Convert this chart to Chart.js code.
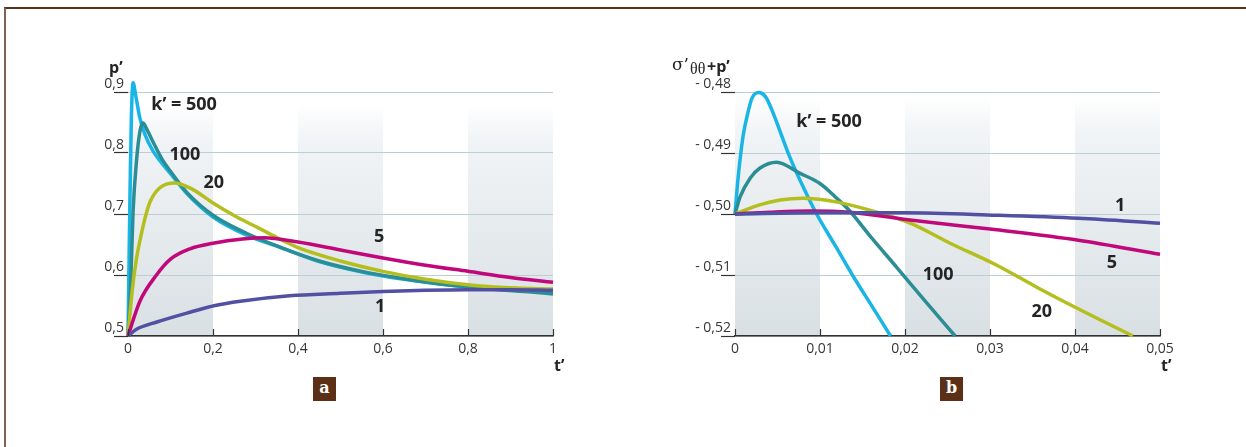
<!DOCTYPE html>
<html>
<head>
<meta charset="utf-8">
<script src="https://cdn.jsdelivr.net/npm/chart.js@4.4.1/dist/chart.umd.min.js"></script>
<style>
html, body { margin: 0; padding: 0; background: #fff; }
body { width: 1246px; height: 447px; position: relative; overflow: hidden; font-family: 'Open Sans', sans-serif; }
.cadre { position: absolute; left: 4px; top: 7px; width: 1300px; height: 500px; border-top: 2px solid #5b3218; border-left: 2px solid #7e6354; }
canvas { position: absolute; top: 0; }
#grafA { left: 0; }
#grafB { left: 623px; }
.tag { position: absolute; top: 377px; width: 23px; height: 24px; background: #5b3016; color: #fff;
       font: bold 16px 'DejaVu Serif', 'Liberation Serif', serif; text-align: center; line-height: 22px; }
</style>
</head>
<body>
<div class="cadre"></div>
<canvas id="grafA" width="623" height="447"></canvas>
<canvas id="grafB" width="623" height="447"></canvas>
<div class="tag" style="left:313px">a</div>
<div class="tag" style="left:940px">b</div>
<script>
// ---- données graphique a : p' en fonction de t'
var tA500 = [0, 0.004, 0.008, 0.012, 0.018, 0.028, 0.04, 0.059, 0.08, 0.1, 0.139, 0.2, 0.28, 0.36, 0.45, 0.55, 0.65, 0.75, 0.85, 0.95, 1.0];
var pA500 = [0.5, 0.70, 0.86, 0.915, 0.895, 0.857, 0.83, 0.803, 0.783, 0.766, 0.733, 0.695, 0.665, 0.645, 0.622, 0.605, 0.593, 0.584, 0.578, 0.573, 0.571];
var tA100 = [0, 0.006, 0.012, 0.02, 0.028, 0.035, 0.045, 0.059, 0.08, 0.1, 0.139, 0.2, 0.28, 0.36, 0.45, 0.55, 0.65, 0.75, 0.85, 0.95, 1.0];
var pA100 = [0.5, 0.58, 0.705, 0.787, 0.835, 0.849, 0.838, 0.818, 0.79, 0.77, 0.735, 0.698, 0.668, 0.645, 0.623, 0.606, 0.594, 0.584, 0.577, 0.572, 0.569];
var tA20 = [0, 0.01, 0.02, 0.028, 0.04, 0.052, 0.075, 0.11, 0.153, 0.2, 0.256, 0.31, 0.357, 0.4, 0.5, 0.6, 0.7, 0.8, 0.9, 1.0];
var pA20 = [0.5, 0.575, 0.627, 0.656, 0.693, 0.72, 0.743, 0.751, 0.74, 0.718, 0.695, 0.676, 0.659, 0.645, 0.623, 0.606, 0.593, 0.584, 0.579, 0.577];
var tA5 = [0, 0.028, 0.067, 0.1, 0.146, 0.2, 0.27, 0.32, 0.4, 0.5, 0.6, 0.7, 0.8, 0.9, 1.0];
var pA5 = [0.5, 0.557, 0.6, 0.626, 0.643, 0.652, 0.659, 0.661, 0.654, 0.641, 0.628, 0.616, 0.606, 0.596, 0.588];
var tA1 = [0, 0.02, 0.068, 0.146, 0.205, 0.264, 0.38, 0.5, 0.6, 0.7, 0.8, 0.9, 1.0];
var pA1 = [0.5, 0.511, 0.523, 0.539, 0.55, 0.557, 0.566, 0.57, 0.573, 0.575, 0.576, 0.576, 0.575];

// ---- données graphique b : sigma'thetatheta + p'
var tB500 = [0, 0.0003, 0.0006, 0.001, 0.0014, 0.002, 0.0028, 0.0036, 0.0045, 0.0055, 0.0064, 0.008, 0.0096, 0.0118, 0.0139, 0.0162, 0.0183];
var sB500 = [-0.5, -0.495, -0.491, -0.4868, -0.4841, -0.481, -0.4801, -0.4808, -0.4835, -0.4872, -0.4905, -0.4955, -0.5, -0.5052, -0.5102, -0.5153, -0.52];
var tB100 = [0, 0.0006, 0.0018, 0.0029, 0.0049, 0.0076, 0.01, 0.0118, 0.0135, 0.016, 0.019, 0.0225, 0.0259];
var sB100 = [-0.5, -0.4972, -0.4941, -0.4925, -0.4915, -0.4933, -0.495, -0.4972, -0.4995, -0.5038, -0.5087, -0.5145, -0.52];
var tB20 = [0, 0.0029, 0.0053, 0.008, 0.0106, 0.0135, 0.0206, 0.0253, 0.0308, 0.0355, 0.0406, 0.0468];
var sB20 = [-0.5, -0.4985, -0.4977, -0.4974, -0.4977, -0.4985, -0.5015, -0.5048, -0.5084, -0.512, -0.5157, -0.52];
var tB5 = [0, 0.0041, 0.0088, 0.0135, 0.0206, 0.0308, 0.0404, 0.05];
var sB5 = [-0.5, -0.4997, -0.4995, -0.4997, -0.501, -0.5026, -0.5043, -0.5066];
var tB1 = [0, 0.01, 0.02, 0.0308, 0.0404, 0.05];
var sB1 = [-0.5, -0.4998, -0.4998, -0.5002, -0.5007, -0.5015];

// bandes grisées et étiquettes des courbes
var bandesA = [[0, 0.2], [0.4, 0.6], [0.8, 1.0]];
var bandesB = [[0, 0.01], [0.02, 0.03], [0.04, 0.05]];
var etiquettesA = [['k’ = 500', 0.132, 0.879], ['100', 0.134, 0.797], ['20', 0.202, 0.751], ['5', 0.591, 0.662], ['1', 0.593, 0.548]];
var etiquettesB = [['k’ = 500', 0.01106, -0.4849], ['1', 0.0453, -0.4987], ['5', 0.04435, -0.508], ['100', 0.0239, -0.51], ['20', 0.0361, -0.5161]];

var couleurs = { k500: '#19b5e6', k100: '#2b8e96', k20: '#b4be1e', k5: '#c1087a', k1: '#5150a2' };

function serie(ts, vs) {
    return ts.map(function(t, i) { return { x: t, y: vs[i] }; });
}

function jeu(ts, vs, coul) {
    return {
        data: serie(ts, vs),
        borderColor: coul,
        borderWidth: 3.5,
        pointRadius: 0,
        cubicInterpolationMode: 'monotone',
        clip: false,
        fill: false
    };
}

// Décor : bandes, petits traits de l'axe t', étiquettes, titres
var decor = {
    id: 'decor',
    beforeDraw: function(chart, args, o) {
        var ctx = chart.ctx, a = chart.chartArea, x = chart.scales.x;
        var haut = a.top + o.decalBande;
        var g = ctx.createLinearGradient(0, haut, 0, a.bottom);
        g.addColorStop(0, 'rgba(236,240,243,0)');
        g.addColorStop(0.15, '#f1f4f6');
        g.addColorStop(1, '#d9e0e4');
        ctx.save();
        ctx.fillStyle = g;
        o.bandes.forEach(function(b) {
            var x0 = x.getPixelForValue(b[0]), x1 = x.getPixelForValue(b[1]);
            ctx.fillRect(x0, haut, x1 - x0, a.bottom - haut);
        });
        ctx.restore();
    },
    afterDraw: function(chart, args, o) {
        var ctx = chart.ctx, a = chart.chartArea, x = chart.scales.x, y = chart.scales.y;
        ctx.save();
        // traits vers l'intérieur sur l'axe t'
        ctx.strokeStyle = '#333';
        ctx.lineWidth = 1.2;
        x.ticks.forEach(function(t) {
            var px = Math.round(x.getPixelForValue(t.value)) + 0.5;
            ctx.beginPath();
            ctx.moveTo(px, a.bottom);
            ctx.lineTo(px, a.bottom - 7);
            ctx.stroke();
        });
        // étiquettes des courbes
        ctx.fillStyle = '#242424';
        ctx.font = 'bold 18px "Open Sans", sans-serif';
        ctx.textAlign = 'center';
        ctx.textBaseline = 'middle';
        o.etiquettes.forEach(function(e) {
            ctx.fillText(e[0], x.getPixelForValue(e[1]), y.getPixelForValue(e[2]));
        });
        // titre axe t'
        ctx.font = 'bold 16px "Open Sans", sans-serif';
        ctx.textAlign = 'left';
        ctx.fillText('t’', a.right + 1, a.bottom + 30);
        // titre axe vertical
        o.titre(ctx, a);
        ctx.restore();
    }
};

function optionsGraf(bandes, decalBande, etiquettes, titre, xmax, xpas, ymin, ymax, ypas, fmtX, fmtY, padRight, largeurY) {
    return {
        responsive: false,
        animation: false,
        events: [],
        layout: { padding: { left: 0, top: 92, right: padRight, bottom: 81 } },
        plugins: {
            legend: { display: false },
            tooltip: { enabled: false },
            decor: { bandes: bandes, decalBande: decalBande, etiquettes: etiquettes, titre: titre }
        },
        scales: {
            x: {
                type: 'linear', min: 0, max: xmax,
                afterFit: function(s) { s.height = 30; },
                grid: { drawOnChartArea: false, drawTicks: false },
                border: { color: '#333', width: 1.5 },
                ticks: { stepSize: xpas, padding: 5, color: '#363636', font: { family: 'Open Sans', size: 14 }, callback: fmtX, maxRotation: 0 }
            },
            y: {
                type: 'linear', min: ymin, max: ymax,
                afterFit: function(s) { s.width = largeurY; },
                grid: { color: '#bccdd6', lineWidth: 1, tickLength: 14, tickColor: '#333', tickWidth: 1.2 },
                border: { display: false },
                ticks: { stepSize: ypas, padding: -10, labelOffset: -8, color: '#363636', font: { family: 'Open Sans', size: 14 }, callback: fmtY }
            }
        }
    };
}

var optA = optionsGraf(bandesA, 14, etiquettesA, function(ctx, a) {
        ctx.font = 'bold 16px "Open Sans", sans-serif';
        ctx.textAlign = 'left';
        ctx.fillText('p’', a.left - 19, a.top - 24);
    }, 1, 0.2, 0.5, 0.9, 0.1,
    function(v) { return v === 0 ? '0' : (v === 1 ? '1' : Number(v).toFixed(1).replace('.', ',')); },
    function(v) { return Number(v).toFixed(1).replace('.', ','); }, 70, 128);

var grafA = new Chart(document.getElementById('grafA'), {
    type: 'line',
    data: {
        datasets: [
            jeu(tA1, pA1, couleurs.k1),
            jeu(tA5, pA5, couleurs.k5),
            jeu(tA20, pA20, couleurs.k20),
            jeu(tA100, pA100, couleurs.k100),
            jeu(tA500, pA500, couleurs.k500)
        ]
    },
    options: optA,
    plugins: [decor]
});

var optB = optionsGraf(bandesB, 6, etiquettesB, function(ctx, a) {
        var x0 = a.left - 63, yb = a.top - 22;
        ctx.textAlign = 'left';
        ctx.textBaseline = 'alphabetic';
        ctx.font = '17px "DejaVu Serif", "Liberation Serif", serif';
        ctx.fillText('σ’', x0, yb);
        ctx.font = '16px "Liberation Serif", "DejaVu Serif", serif';
        ctx.fillText('θθ', x0 + 18, yb + 4);
        ctx.font = 'bold 16px "Open Sans", sans-serif';
        ctx.fillText('+p’', x0 + 35, yb + 2);
    }, 0.05, 0.01, -0.52, -0.48, 0.01,
    function(v) { return v === 0 ? '0' : Number(v).toFixed(2).replace('.', ','); },
    function(v) { return '- ' + Math.abs(v).toFixed(2).replace('.', ','); }, 86, 112);

var grafB = new Chart(document.getElementById('grafB'), {
    type: 'line',
    data: {
        datasets: [
            jeu(tB1, sB1, couleurs.k1),
            jeu(tB5, sB5, couleurs.k5),
            jeu(tB20, sB20, couleurs.k20),
            jeu(tB100, sB100, couleurs.k100),
            jeu(tB500, sB500, couleurs.k500)
        ]
    },
    options: optB,
    plugins: [decor]
});
</script>
</body>
</html>
